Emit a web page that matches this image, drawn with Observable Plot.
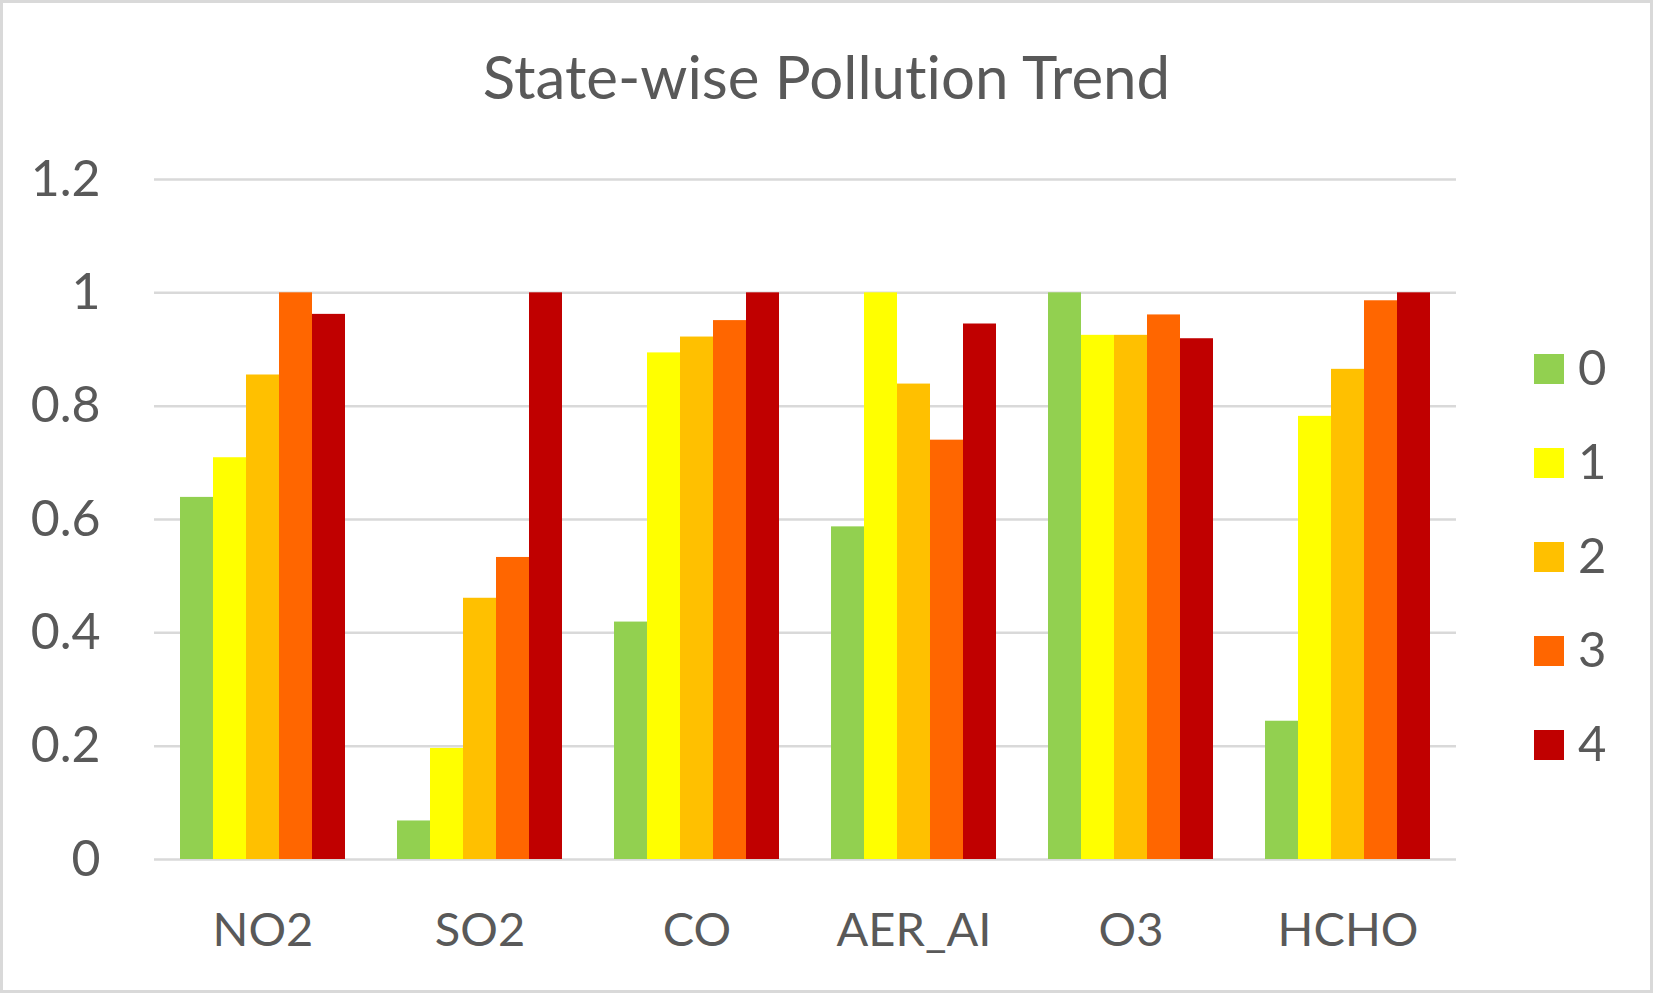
<!DOCTYPE html>
<html>
<head>
<meta charset="utf-8">
<script src="https://cdn.jsdelivr.net/npm/d3@7"></script>
<script src="https://cdn.jsdelivr.net/npm/@observablehq/plot@0.6"></script>
<style>
  html, body { margin: 0; padding: 0; background: #ffffff; }
  #chart { position: relative; width: 1653px; height: 993px; overflow: hidden; font-family: Lato, "Open Sans", sans-serif; color: #595959; background: #fff; font-variant-ligatures: none; }
  #chart svg { position: absolute; left: 0; top: 0; font-variant-ligatures: none; }
  #border { position: absolute; left: 0; top: 0; width: 1653px; height: 993px; box-sizing: border-box; border: 3px solid #D9D9D9; pointer-events: none; }
  #title { position: absolute; left: 0; top: 46px; width: 1653px; text-align: center; font-size: 60px; line-height: 60px; white-space: nowrap; font-variant-ligatures: none; font-feature-settings: "liga" 0, "clig" 0; }
  #legend { position: absolute; left: 1534px; top: 354px; }
  .row { display: flex; align-items: center; height: 30px; margin-bottom: 64px; }
  .sw { width: 30px; height: 30px; flex: none; }
  .lab { margin-left: 14px; font-size: 49px; line-height: 30px; position: relative; top: -3px; }
</style>
</head>
<body>
<div id="chart">
  <div id="title">State-wise Pollution Trend</div>
  <div id="legend"></div>
  <div id="border"></div>
</div>
<script>
const pollutants = ["NO2", "SO2", "CO", "AER_AI", "O3", "HCHO"];
const series = ["0", "1", "2", "3", "4"];
const s0 = [0.639, 0.068, 0.419, 0.587, 1.000, 0.244];
const s1 = [0.709, 0.196, 0.894, 1.000, 0.925, 0.782];
const s2 = [0.855, 0.461, 0.922, 0.839, 0.925, 0.865];
const s3 = [1.000, 0.533, 0.951, 0.740, 0.961, 0.986];
const s4 = [0.962, 1.000, 1.000, 0.945, 0.919, 1.000];
const colors = ["#92D050", "#FFFF00", "#FFC000", "#FF6600", "#C00000"];
const yTicks = [0, 0.2, 0.4, 0.6, 0.8, 1, 1.2];

const seriesValues = [s0, s1, s2, s3, s4];
const data = pollutants.flatMap((p, i) =>
  series.map((s, j) => ({pollutant: p, series: s, value: seriesValues[j][i]}))
);

const plot = Plot.plot({
  width: 1653,
  height: 993,
  marginLeft: 152,
  marginRight: 196,
  marginTop: 179,
  marginBottom: 134,
  style: {fontFamily: "Lato, 'Open Sans', sans-serif", fontSize: "48px", color: "#595959", background: "transparent"},
  fx: {domain: pollutants, padding: 0, label: null, axis: null},
  x: {domain: series, paddingInner: 0, paddingOuter: 0.72, axis: null},
  y: {domain: [0, 1.2], axis: null},
  color: {domain: series, range: colors},
  marks: [
    Plot.ruleY(yTicks, {stroke: "#D9D9D9", strokeWidth: 2.5}),
    Plot.barY(data, {fx: "pollutant", x: "series", y: "value", fill: "series"}),
    Plot.axisY({ticks: yTicks, tickFormat: d => String(d), tickSize: 0, tickPadding: 54, label: null, fontSize: 50}),
    Plot.axisFx({anchor: "bottom", tickSize: 0, tickPadding: 53, label: null, fontSize: 47})
  ]
});
const chart = document.getElementById("chart");
chart.insertBefore(plot, chart.firstChild);

const legend = document.getElementById("legend");
series.forEach((s, i) => {
  const row = document.createElement("div");
  row.className = "row";
  const sw = document.createElement("div");
  sw.className = "sw";
  sw.style.background = colors[i];
  const lab = document.createElement("span");
  lab.className = "lab";
  lab.textContent = s;
  row.appendChild(sw);
  row.appendChild(lab);
  legend.appendChild(row);
});
</script>
</body>
</html>
